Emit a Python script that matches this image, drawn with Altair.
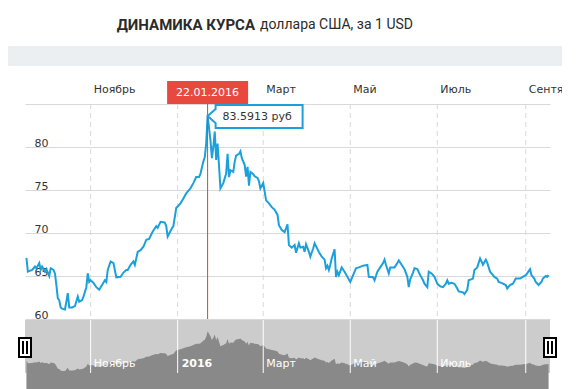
import altair as alt
import pandas as pd

# ---------------- data ----------------
dates = [
    "2015-09-17", "2015-09-18", "2015-09-21", "2015-09-23", "2015-09-24", "2015-09-26",
    "2015-09-27", "2015-09-28", "2015-09-30", "2015-10-01", "2015-10-03", "2015-10-04",
    "2015-10-06", "2015-10-07", "2015-10-08", "2015-10-09", "2015-10-10", "2015-10-11",
    "2015-10-12", "2015-10-14", "2015-10-15", "2015-10-16", "2015-10-17", "2015-10-19",
    "2015-10-21", "2015-10-23", "2015-10-24", "2015-10-26", "2015-10-27", "2015-10-29",
    "2015-10-30", "2015-10-31", "2015-11-01", "2015-11-03", "2015-11-05", "2015-11-07",
    "2015-11-09", "2015-11-11", "2015-11-12", "2015-11-13", "2015-11-15", "2015-11-17",
    "2015-11-19", "2015-11-22", "2015-11-24", "2015-11-26", "2015-11-27", "2015-11-29",
    "2015-12-01", "2015-12-02", "2015-12-03", "2015-12-04", "2015-12-06", "2015-12-08",
    "2015-12-10", "2015-12-12", "2015-12-14", "2015-12-15", "2015-12-17", "2015-12-18",
    "2015-12-20", "2015-12-22", "2015-12-23", "2015-12-24", "2015-12-25", "2015-12-28",
    "2015-12-29", "2015-12-31", "2016-01-03", "2016-01-05", "2016-01-07", "2016-01-10",
    "2016-01-12", "2016-01-14", "2016-01-16", "2016-01-17", "2016-01-19", "2016-01-20",
    "2016-01-21", "2016-01-22", "2016-01-24", "2016-01-25", "2016-01-26", "2016-01-27",
    "2016-01-28", "2016-01-29", "2016-01-31", "2016-02-02", "2016-02-04", "2016-02-05",
    "2016-02-06", "2016-02-07", "2016-02-09", "2016-02-10", "2016-02-11", "2016-02-13",
    "2016-02-14", "2016-02-15", "2016-02-17", "2016-02-18", "2016-02-19", "2016-02-20",
    "2016-02-21", "2016-02-23", "2016-02-24", "2016-02-26", "2016-02-27", "2016-02-28",
    "2016-03-01", "2016-03-03", "2016-03-05", "2016-03-07", "2016-03-09", "2016-03-11",
    "2016-03-12", "2016-03-14", "2016-03-16", "2016-03-18", "2016-03-19", "2016-03-21",
    "2016-03-23", "2016-03-24", "2016-03-26", "2016-03-27", "2016-03-29", "2016-03-30",
    "2016-03-31", "2016-04-02", "2016-04-03", "2016-04-05", "2016-04-06", "2016-04-09",
    "2016-04-11", "2016-04-13", "2016-04-14", "2016-04-15", "2016-04-16", "2016-04-17",
    "2016-04-18", "2016-04-20", "2016-04-21", "2016-04-22", "2016-04-23", "2016-04-25",
    "2016-04-27", "2016-04-29", "2016-05-01", "2016-05-03", "2016-05-05", "2016-05-07",
    "2016-05-10", "2016-05-13", "2016-05-14", "2016-05-17", "2016-05-18", "2016-05-20",
    "2016-05-22", "2016-05-24", "2016-05-25", "2016-05-26", "2016-05-28", "2016-05-29",
    "2016-06-01", "2016-06-03", "2016-06-04", "2016-06-06", "2016-06-08", "2016-06-10",
    "2016-06-11", "2016-06-12", "2016-06-14", "2016-06-15", "2016-06-17", "2016-06-19",
    "2016-06-21", "2016-06-22", "2016-06-24", "2016-06-25", "2016-06-27", "2016-06-29",
    "2016-07-01", "2016-07-03", "2016-07-05", "2016-07-07", "2016-07-08", "2016-07-09",
    "2016-07-11", "2016-07-13", "2016-07-15", "2016-07-16", "2016-07-19", "2016-07-20",
    "2016-07-22", "2016-07-23", "2016-07-26", "2016-07-27", "2016-07-29", "2016-07-31",
    "2016-08-01", "2016-08-02", "2016-08-04", "2016-08-05", "2016-08-07", "2016-08-08",
    "2016-08-10", "2016-08-12", "2016-08-13", "2016-08-15", "2016-08-18", "2016-08-19",
    "2016-08-21", "2016-08-23", "2016-08-25", "2016-08-28", "2016-08-30", "2016-09-01",
    "2016-09-02", "2016-09-04", "2016-09-05", "2016-09-07", "2016-09-08", "2016-09-10",
    "2016-09-12", "2016-09-13", "2016-09-15", "2016-09-16", "2016-09-17",
]
usd_rub = [
    67.1, 65.5, 65.7, 66.1, 65.9, 66.5,
    65.7, 66.1, 65.5, 65.8, 65.0, 65.9,
    65.7, 65.3, 63.95, 62.4, 62.2, 61.35,
    61.2, 61.1, 62.0, 63.0, 61.35, 61.35,
    61.5, 62.6, 62.0, 62.2, 62.6, 63.7,
    65.3, 64.3, 64.5, 64.2, 63.7, 63.4,
    63.95, 64.5, 64.3, 65.7, 66.7, 66.5,
    64.85, 64.9, 65.4, 65.7, 65.7, 66.3,
    66.7, 66.3, 67.05, 67.8, 68.0, 68.4,
    69.2, 69.3, 70.0, 70.3, 70.8, 70.6,
    71.3, 71.25, 71.2, 70.8, 69.6, 70.55,
    70.8, 72.9, 73.45, 74.0, 74.6, 75.2,
    75.8, 76.5, 76.5, 76.9, 78.3, 78.8,
    80.4, 83.5913, 80.8, 78.7, 80.0, 81.8,
    78.5, 80.4, 75.2, 75.8, 76.9, 79.2,
    76.5, 77.3, 77.1, 78.3, 79.0, 79.2,
    79.5, 78.7, 77.9, 76.55, 77.7, 75.5,
    77.1, 76.85, 76.6, 76.4, 76.0, 75.2,
    75.8, 73.8, 73.45, 73.0, 72.7, 72.1,
    70.9, 70.35, 70.1, 71.0, 68.6, 68.3,
    68.6, 67.7, 68.8, 68.3, 68.4, 67.8,
    68.7, 67.8, 67.25, 68.2, 68.8, 67.8,
    67.25, 66.9, 65.9, 66.2, 65.7, 66.3,
    67.05, 68.1, 64.9, 65.5, 65.1, 66.0,
    65.5, 64.9, 64.3, 65.1, 65.9, 66.0,
    66.2, 66.3, 64.9, 64.85, 64.5, 65.5,
    66.0, 66.5, 66.9, 66.3, 65.3, 66.0,
    66.0, 66.5, 66.8, 66.3, 65.8, 64.9,
    63.7, 64.6, 65.4, 65.9, 65.8, 65.1,
    64.5, 64.1, 63.7, 65.5, 65.3, 64.9,
    64.1, 63.8, 63.7, 64.1, 64.5, 64.1,
    64.2, 64.1, 63.55, 63.2, 63.1, 62.9,
    63.4, 64.5, 64.7, 65.7, 66.0, 67.05,
    66.7, 66.3, 66.9, 66.55, 65.5, 65.3,
    64.9, 64.7, 64.3, 64.2, 63.95, 63.55,
    63.95, 64.1, 64.7, 64.7, 64.9, 65.1,
    65.3, 65.8, 65.1, 64.7, 64.3, 63.95,
    64.3, 64.7, 65.0, 64.9, 65.1,
]

peak_date = "2016-01-22"
peak_value = 83.5913
peak_date_label = "22.01.2016"
peak_text = "83.5913 руб"

x_start, x_end = "2015-09-16", "2016-09-18"
grid_dates = ["2015-11-01", "2016-01-01", "2016-03-01", "2016-05-01", "2016-07-01", "2016-09-01"]
top_label_dates = ["2015-11-01", "2016-03-01", "2016-05-01", "2016-07-01", "2016-09-01"]
top_labels = ["Ноябрь", "Март", "Май", "Июль", "Сентябрь"]
nav_label_dates = ["2015-11-01", "2016-03-01", "2016-05-01", "2016-07-01"]
nav_labels = ["Ноябрь", "Март", "Май", "Июль"]
nav_year_date = ["2016-01-01"]
nav_year_label = ["2016"]
y_ticks = [60, 65, 70, 75, 80, 85]
main_domain = [60, 85]
nav_domain = [60, 90]
title_bold = "ДИНАМИКА КУРСА"
title_rest = "доллара США, за 1 USD"

# ---------------- styling ----------------
BLUE = "#1ba0dc"
RED_LINE = "#cc4a3e"
RED_BOX = "#e8493f"
GRID = "#d9d9d9"
FONT = "DejaVu Sans"
W, H = 525, 269          # plot area (main + navigator)
MAIN_H = 215
NAV_TOP = 216

def dt(s):
    t = pd.Timestamp(s)
    return alt.DateTime(year=t.year, month=t.month, date=t.day, utc=True)

xscale = alt.Scale(type="utc", domain=[dt(x_start), dt(x_end)])
main_y = alt.Scale(domain=main_domain, range=[MAIN_H, 0], zero=False, nice=False)
nav_y = alt.Scale(domain=nav_domain, range=[H, NAV_TOP], zero=False, nice=False)

def X(field="date:T"):
    return alt.X(field, scale=xscale, axis=None)

df = pd.DataFrame({"date": dates, "value": usd_rub})
peak_df = pd.DataFrame({"date": [peak_date], "value": [peak_value],
                        "dlabel": [peak_date_label], "vlabel": [peak_text]})
grid_df = pd.DataFrame({"date": grid_dates})
top_df = pd.DataFrame({"date": top_label_dates, "t": top_labels})
one = pd.DataFrame({"a": [0]})

# page decorations
band = alt.Chart(one).mark_rect(color="#eceff1").encode(
    x=alt.value(-17), x2=alt.value(W + 12), y=alt.value(-58), y2=alt.value(-38))
t_bold = alt.Chart(pd.DataFrame({"t": [title_bold]})).mark_text(
    font="Roboto", fontSize=15, fontWeight="bold", align="right", baseline="middle",
    color="#2b2b2b").encode(x=alt.value(230), y=alt.value(-79), text="t:N")
t_rest = alt.Chart(pd.DataFrame({"t": [title_rest]})).mark_text(
    font="Roboto", fontSize=14, align="left", baseline="middle",
    color="#2b2b2b").encode(x=alt.value(235), y=alt.value(-79), text="t:N")

# navigator
nav_bg = alt.Chart(one).mark_rect(color="#cccccc").encode(
    x=alt.value(0), x2=alt.value(W), y=alt.value(NAV_TOP), y2=alt.value(H))
nav_area = alt.Chart(df).mark_area(color="#898989", opacity=1).encode(
    x=X(), y=alt.Y("value:Q", scale=nav_y, axis=None), y2=alt.value(H))
nav_rules = alt.Chart(grid_df).mark_rule(
    color="white", strokeWidth=1).encode(x=X(), y=alt.value(NAV_TOP), y2=alt.value(H))
nav_text = alt.Chart(pd.DataFrame({"date": nav_label_dates, "t": nav_labels})).mark_text(
    font=FONT, fontSize=11, color="white", align="left", baseline="middle", dx=3).encode(
    x=X(), y=alt.value(260), text="t:N")
nav_year = alt.Chart(pd.DataFrame({"date": nav_year_date, "t": nav_year_label})).mark_text(
    font=FONT, fontSize=11, fontWeight="bold", color="white", align="left",
    baseline="middle", dx=4).encode(x=X(), y=alt.value(260), text="t:N")

# month grid (dashed) and month labels on top
month_rules = alt.Chart(grid_df).mark_rule(
    color=GRID, strokeWidth=1, strokeDash=[5, 4]).encode(
    x=X(), y=alt.value(0), y2=alt.value(MAIN_H))
month_text = alt.Chart(top_df).mark_text(
    font=FONT, fontSize=11, color="#333333", align="left", baseline="middle", dx=3).encode(
    x=X(), y=alt.value(-14), text="t:N")

# main line with y axis
line = alt.Chart(df).mark_line(color=BLUE, strokeWidth=2).encode(
    x=X(),
    y=alt.Y("value:Q", scale=main_y, axis=alt.Axis(
        values=y_ticks, labelExpr="datum.value >= 85 ? '' : datum.label",
        grid=True, gridColor=GRID, gridWidth=1, ticks=False, tickSize=0, domain=False,
        labelAlign="left", labelBaseline="alphabetic", labelPadding=-9, labelOffset=-1,
        labelFont=FONT, labelFontSize=11, labelColor="#333333", title=None, zindex=0)),
)

# highlighted date
red_rule = alt.Chart(peak_df).mark_rule(color=RED_LINE, strokeWidth=1).encode(
    x=X(), y=alt.value(0), y2=alt.value(MAIN_H))
red_box = alt.Chart(peak_df).mark_rect(color=RED_BOX, xOffset=-40.5, x2Offset=40.5).encode(
    x=X(), x2="date:T", y=alt.value(-23), y2=alt.value(0))
red_text = alt.Chart(peak_df).mark_text(
    font=FONT, fontSize=11, color="white", align="center", baseline="middle").encode(
    x=X(), y=alt.value(-11), text="dlabel:N")

CALLOUT = "M0,0 L8,-7 L8,-11 L95,-11 L95,12 L8,12 L8,7 Z"
callout = alt.Chart(peak_df).mark_point(
    shape=CALLOUT, size=4, fill="white", stroke=BLUE, strokeWidth=2,
    opacity=1, fillOpacity=1, strokeOpacity=1).encode(
    x=X(), y=alt.Y("value:Q", scale=main_y, axis=None))
callout_text = alt.Chart(peak_df).mark_text(
    font=FONT, fontSize=11, color="#333333", align="left", baseline="middle", dx=15, dy=1).encode(
    x=X(), y=alt.Y("value:Q", scale=main_y, axis=None), text="vlabel:N")

HANDLE = "M-6,-9.5 H6 V9.5 H-6 Z M-2,-6.5 V6.5 M2,-6.5 V6.5"
handles = alt.Chart(pd.DataFrame({"date": [x_start, x_end]})).mark_point(
    shape=HANDLE, size=4, fill="white", stroke="black", strokeWidth=2,
    opacity=1, fillOpacity=1, strokeOpacity=1).encode(
    x=X(), y=alt.value(243.5))

chart = alt.layer(
    band, t_bold, t_rest,
    month_rules, month_text,
    nav_bg, nav_area, nav_rules, nav_text, nav_year,
    line, red_rule, red_box, red_text, callout, callout_text, handles,
).resolve_scale(y="independent").properties(
    width=W, height=H,
    autosize=alt.AutoSizeParams(type="none"),
    padding={"left": 17, "top": 96, "right": 12, "bottom": 16},
    background="white",
).configure_view(stroke=None)

chart.save("out.html", embed_options={"renderer": "svg", "actions": False})
